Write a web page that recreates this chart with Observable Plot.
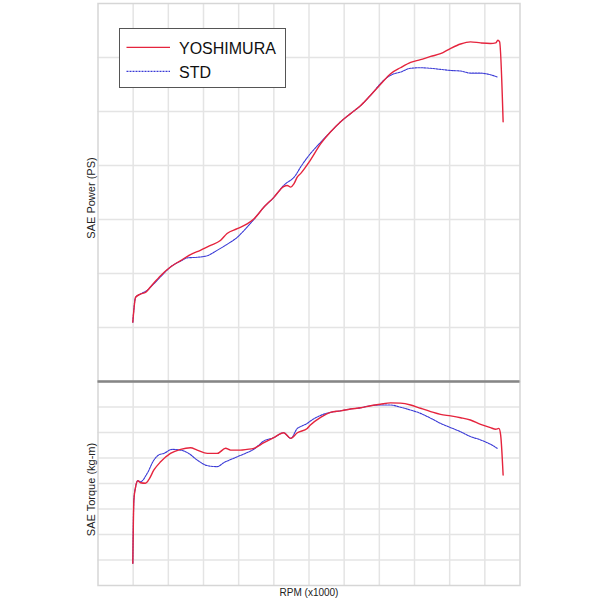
<!DOCTYPE html>
<html>
<head>
<meta charset="utf-8">
<script src="https://cdn.jsdelivr.net/npm/d3@7"></script>
<script src="https://cdn.jsdelivr.net/npm/@observablehq/plot@0.6"></script>
<style>
  html, body { margin: 0; padding: 0; background: #fff; }
  #wrap { position: relative; width: 600px; height: 600px; overflow: hidden; font-family: "Liberation Sans", Arial, sans-serif; }
  #wrap > svg { position: absolute; left: 0; }
  #legend { position: absolute; left: 118.5px; top: 28.3px; width: 167.5px; height: 60px; box-sizing: border-box; border: 1.5px solid #555; background: #fff; }
</style>
</head>
<body>
<div id="wrap"><div id="legend"></div></div>
<script>
// ---- Data (x in grid units, RPM x1000) ----
const seriesNames = ["YOSHIMURA", "STD"];
const seriesColors = ["#e5243d", "#3a3ad6"];

const rpmGrid = [1, 2, 3, 4, 5, 6, 7, 8, 9, 10, 11];
const powerGrid = [10, 20, 30, 40, 50, 60];
const torqueGrid = [1, 2, 3, 4, 5, 6, 7];

const powerLabel = "SAE Power (PS)";
const torqueLabel = "SAE Torque (kg-m)";
const rpmLabel = "RPM (x1000)";

// YOSHIMURA power
const yoshPowerRpm = [0.99,1.07,1.21,1.35,1.49,1.78,2.06,2.35,2.63,2.91,3.20,3.48,3.67,3.96,4.24,4.43,4.72,5.00,5.28,5.38,5.48,5.57,5.67,5.76,6.04,6.33,6.61,6.90,7.18,7.47,7.75,8.03,8.32,8.60,8.89,9.17,9.46,9.74,10.03,10.31,10.59,10.88,11.16,11.31,11.37,11.42,11.52];
const yoshPower = [11.0,15.6,16.2,16.5,17.5,19.6,21.2,22.4,23.5,24.3,25.2,26.1,27.4,28.3,29.2,30.1,32.3,34.1,36.1,36.3,36.0,36.6,37.9,38.5,41.0,44.0,46.2,48.1,49.6,51.1,53.0,55.0,57.0,58.1,59.1,59.6,60.2,60.7,61.7,62.5,62.9,62.7,62.6,62.7,63.2,62.9,48.1];

// STD power
const stdPowerRpm = [0.99,1.07,1.21,1.40,1.59,1.78,2.06,2.35,2.54,2.82,3.11,3.39,3.67,3.96,4.24,4.43,4.72,5.00,5.28,5.62,5.76,6.04,6.33,6.61,6.90,7.18,7.47,7.75,8.13,8.32,8.60,8.89,9.17,9.46,9.74,10.03,10.31,10.59,10.88,11.16,11.35];
const stdPower = [11.0,15.6,16.2,16.9,18.1,19.4,21.2,22.3,22.9,23.0,23.3,24.3,25.4,26.7,28.6,30.0,32.3,34.1,36.3,38.2,39.7,42.2,44.3,46.2,48.1,49.6,51.1,53.0,55.8,56.7,57.3,58.0,58.1,58.0,57.8,57.6,57.5,57.1,57.1,56.8,56.4];

// YOSHIMURA torque
const yoshTorqueRpm = [0.99,1.02,1.07,1.13,1.21,1.35,1.44,1.59,1.78,2.06,2.35,2.63,2.82,3.11,3.39,3.63,3.77,4.05,4.24,4.43,4.72,5.00,5.28,5.48,5.67,5.95,6.04,6.33,6.61,6.90,7.18,7.47,7.75,8.03,8.32,8.60,8.89,9.17,9.46,9.74,10.03,10.31,10.59,10.88,11.16,11.31,11.40,11.45,11.52];
const yoshTorque = [0.87,3.35,3.87,4.11,4.03,4.01,4.14,4.53,4.85,5.18,5.34,5.40,5.31,5.18,5.18,5.38,5.31,5.31,5.34,5.38,5.60,5.80,5.99,5.77,5.99,6.16,6.29,6.59,6.79,6.85,6.92,6.97,7.05,7.11,7.16,7.15,7.08,6.95,6.82,6.71,6.65,6.58,6.49,6.32,6.19,6.13,6.16,5.90,4.33];

// STD torque
const stdTorqueRpm = [0.99,1.02,1.07,1.13,1.21,1.40,1.59,1.73,1.87,2.11,2.35,2.58,2.82,3.11,3.39,3.58,3.86,4.15,4.43,4.72,5.00,5.28,5.48,5.67,5.76,5.95,6.04,6.33,6.61,6.90,7.18,7.47,7.75,8.03,8.32,8.60,8.89,9.17,9.46,9.74,10.03,10.31,10.59,10.88,11.16,11.35];
const stdTorque = [0.87,3.35,3.87,4.11,4.07,4.40,4.92,5.12,5.18,5.34,5.31,5.18,4.92,4.70,4.66,4.82,4.99,5.16,5.34,5.67,5.80,5.99,5.77,6.16,6.23,6.36,6.45,6.67,6.79,6.85,6.92,6.97,7.05,7.08,7.08,6.99,6.88,6.75,6.56,6.36,6.19,6.03,5.84,5.71,5.54,5.38];

// ---- Build ----
const zip = (xs, ys) => xs.map((x, i) => ({x, y: ys[i]}));
const gridColor = "#e4e4e4";
const frameColor = "#d6d6d6";
const font = "Liberation Sans, Arial, sans-serif";

function seriesMarks(yosh, std) {
  return [
    Plot.line(std, {x: "x", y: "y", stroke: seriesColors[1], strokeWidth: 1.1, strokeDasharray: "2,1", curve: "monotone-x"}),
    Plot.line(yosh, {x: "x", y: "y", stroke: seriesColors[0], strokeWidth: 1.4, curve: "monotone-x"})
  ];
}

const topPlot = Plot.plot({
  width: 600, height: 381,
  marginLeft: 97.5, marginRight: 80.5, marginTop: 3, marginBottom: 0,
  style: {fontFamily: font, background: "transparent", overflow: "visible"},
  x: {domain: [0, 12], axis: null},
  y: {domain: [0, 70], axis: null},
  marks: [
    Plot.ruleX(rpmGrid, {stroke: gridColor, strokeWidth: 1.5}),
    Plot.ruleY(powerGrid, {stroke: gridColor, strokeWidth: 1.5}),
    Plot.frame({stroke: frameColor, strokeWidth: 1.5}),
    ...seriesMarks(zip(yoshPowerRpm, yoshPower), zip(stdPowerRpm, stdPower)),
    Plot.text([powerLabel], {text: d => d, frameAnchor: "left", textAnchor: "middle", lineAnchor: "middle", rotate: -90, dx: -6.5, dy: 5.5, fontSize: 11, fill: "#222"})
  ]
});
topPlot.style.top = "0px";

const bottomPlot = Plot.plot({
  width: 600, height: 221,
  marginLeft: 97.5, marginRight: 80.5, marginTop: 2, marginBottom: 15,
  style: {fontFamily: font, background: "transparent", overflow: "visible"},
  x: {domain: [0, 12], axis: null},
  y: {domain: [0, 8], axis: null},
  marks: [
    Plot.ruleX(rpmGrid, {stroke: gridColor, strokeWidth: 1.5}),
    Plot.ruleY(torqueGrid, {stroke: gridColor, strokeWidth: 1.5}),
    Plot.frame({stroke: frameColor, strokeWidth: 1.5}),
    ...seriesMarks(zip(yoshTorqueRpm, yoshTorque), zip(stdTorqueRpm, stdTorque)),
    Plot.ruleY([8], {stroke: "#868686", strokeWidth: 2.5}),
    Plot.text([torqueLabel], {text: d => d, frameAnchor: "left", textAnchor: "middle", lineAnchor: "middle", rotate: -90, dx: -6.5, dy: 6, fontSize: 11, fill: "#222"}),
    Plot.text([rpmLabel], {text: d => d, frameAnchor: "bottom", textAnchor: "middle", lineAnchor: "middle", dy: 7.5, fontSize: 10, fill: "#222"})
  ]
});
bottomPlot.style.top = "379px";

const wrap = document.getElementById("wrap");
wrap.insertBefore(topPlot, wrap.firstChild);
wrap.insertBefore(bottomPlot, topPlot.nextSibling);

// Legend
const legendSvg = d3.select("#legend").append("svg").attr("width", 165).attr("height", 57)
  .style("position", "absolute").style("left", "0px").style("top", "0px");
const rowsY = [18.4, 42.4];
seriesNames.forEach((name, i) => {
  legendSvg.append("line")
    .attr("x1", 6.5).attr("x2", 50).attr("y1", rowsY[i]).attr("y2", rowsY[i])
    .attr("stroke", seriesColors[i]).attr("stroke-width", i === 0 ? 1.4 : 1.1)
    .attr("stroke-dasharray", i === 0 ? null : "2,1");
  legendSvg.append("text")
    .attr("x", 59).attr("y", rowsY[i] + 6.2)
    .attr("font-family", font).attr("font-size", 16).attr("fill", "#111")
    .text(name);
});
</script>
</body>
</html>
